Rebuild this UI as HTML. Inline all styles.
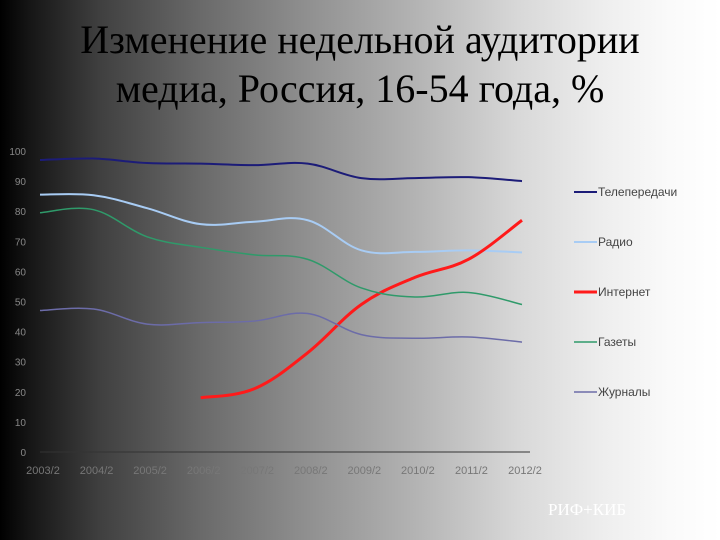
<!DOCTYPE html>
<html><head><meta charset="utf-8"><style>
body{margin:0}
#slide{width:720px;height:540px;position:relative;overflow:hidden;background:linear-gradient(to right,#000 0%,#151515 4%,#404040 14%,#6a6a6a 28%,#8e8e8e 42%,#b4b4b4 58%,#d8d8d8 72%,#eeeeee 84%,#fafafa 93%,#fff 100%);font-family:"Liberation Sans",sans-serif}
#title{position:absolute;left:0;width:720px;top:15px;text-align:center;font-family:"Liberation Serif",serif;font-size:40px;line-height:49px;color:#000}
</style></head><body>
<div id="slide">
<div id="title">Изменение недельной аудитории<br>медиа, Россия, 16-54 года, %</div>
<svg id="chart" width="720" height="540" style="position:absolute;left:0;top:0"></svg>
<div style="position:absolute;left:548px;top:500px;color:#fff;font-family:'Liberation Serif',serif;font-size:17px">РИФ+КИБ</div>
</div>
<script>
const categories=["2003/2","2004/2","2005/2","2006/2","2007/2","2008/2","2009/2","2010/2","2011/2","2012/2"];
const yTicks=[0,10,20,30,40,50,60,70,80,90,100];
const tv=[97,97.5,96,95.8,95.3,95.8,91,91,91.3,90];
const radio=[85.5,85.3,81,75.7,76.5,77,67,66.5,67,66.3];
const internet=[null,null,null,18,21,33,49,58,64,77];
const gazety=[79.5,80.5,71.5,68,65.5,64,54.5,51.5,53,49];
const journals=[47,47.5,42.5,43,43.5,46,39,37.8,38.2,36.5];
const seriesNames=["Телепередачи","Радио","Интернет","Газеты","Журналы"];
const series=[tv,radio,internet,gazety,journals];
const colors=["#1c1c78","#a8ccf4","#ff1a1a","#2f9a6a","#6c6ca8"];
const widths=[2,2,3,1.5,1.5];
const svg=document.getElementById('chart');const NS="http://www.w3.org/2000/svg";
const X0=40,X1=522,Y0=452,Y1=151;
const x=i=>X0+(X1-X0)*i/(categories.length-1);
const y=v=>Y0-(Y0-Y1)*v/100;
function mk(t,a){const e=document.createElementNS(NS,t);for(const k in a)e.setAttribute(k,a[k]);svg.appendChild(e);return e;}
const ax=mk('line',{x1:X0,y1:Y0,x2:X1+8,y2:Y0,stroke:'#333','stroke-width':1});


yTicks.forEach(t=>{const e=mk('text',{x:X0-14,y:y(t)+4,'text-anchor':'end','font-size':10,fill:'#888'});e.textContent=t;

});
categories.forEach((c,i)=>{const e=mk('text',{x:x(i)+3,y:Y0+22,'text-anchor':'middle','font-size':11,fill:'#777'});e.textContent=c;

});
function path(pts){let d=`M${pts[0][0]},${pts[0][1]}`;for(let i=0;i<pts.length-1;i++){const p0=pts[i-1]||pts[i],p1=pts[i],p2=pts[i+1],p3=pts[i+2]||p2;const t=0.18;
d+=` C${p1[0]+(p2[0]-p0[0])*t},${p1[1]+(p2[1]-p0[1])*t} ${p2[0]-(p3[0]-p1[0])*t},${p2[1]-(p3[1]-p1[1])*t} ${p2[0]},${p2[1]}`;}return d;}
series.forEach((s,k)=>{const pts=[];s.forEach((v,i)=>{if(v!=null)pts.push([x(i),y(v)]);});
const p=mk('path',{d:path(pts),fill:'none',stroke:colors[k],'stroke-width':widths[k]});


const ly=192+k*50;
const l=mk('line',{x1:574,x2:597,y1:ly,y2:ly,stroke:colors[k],'stroke-width':widths[k]});


const t=mk('text',{x:598,y:ly+4,'font-size':12,fill:'#444'});t.textContent=seriesNames[k];

});
</script>
</body></html>
